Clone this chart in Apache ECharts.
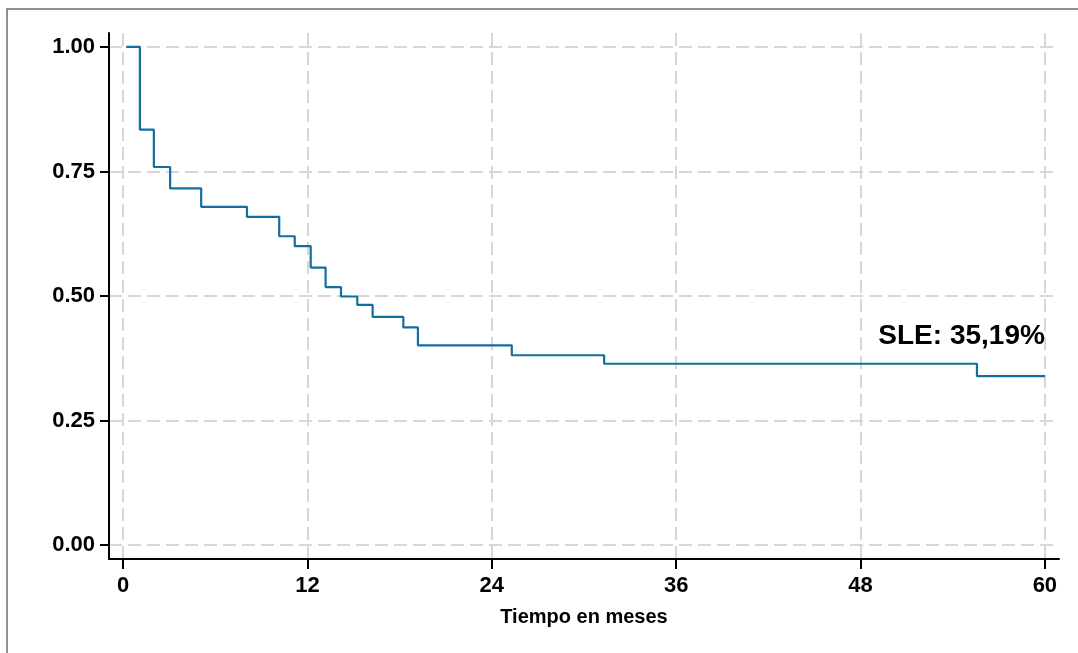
<!DOCTYPE html>
<html>
<head>
<meta charset="utf-8">
<script src="https://cdn.jsdelivr.net/npm/echarts@6/dist/echarts.min.js"></script>
<style>
html,body{margin:0;padding:0;background:#fff;}
#chart{width:1078px;height:653px;}
</style>
</head>
<body>
<div id="chart"></div>
<script>
// Kaplan-Meier step curve (time in months, survival probability)
var times = [0.2, 1.09, 2.0, 3.06, 5.08, 8.06, 10.16, 11.17, 12.21, 13.18, 14.18, 15.24, 16.24, 18.24, 19.19, 25.3, 31.31, 55.58, 60];
var surv  = [1.000, 0.834, 0.759, 0.716, 0.679, 0.659, 0.620, 0.600, 0.557, 0.518, 0.499, 0.482, 0.458, 0.437, 0.401, 0.381, 0.364, 0.339, 0.339];
var xTicks = [0, 12, 24, 36, 48, 60];
var yTicks = [0, 0.25, 0.5, 0.75, 1];
var xTitle = 'Tiempo en meses';
var annotation = 'SLE: 35,19%';

var data = times.map(function (t, i) { return [t, surv[i]]; });

var chart = echarts.init(document.getElementById('chart'), null, {renderer: 'canvas'});
var font = 'Liberation Sans, Arial, Helvetica, sans-serif';
var gridLine = {show: true, lineStyle: {color: '#d7d7d7', width: 2, type: [13, 6]}};

chart.setOption({
  backgroundColor: '#ffffff',
  animation: false,
  graphic: [{
    type: 'rect', silent: true,
    shape: {x: 7, y: 9, width: 1200, height: 800},
    style: {fill: 'none', stroke: '#6e6e6e', lineWidth: 1.5}
  }],
  grid: {left: 109, top: 33, width: 950, height: 526, containLabel: false},
  xAxis: {
    type: 'value', min: -0.92, max: 60.92,
    name: xTitle, nameLocation: 'middle', nameGap: 48,
    nameTextStyle: {color: '#000', fontSize: 20, fontWeight: 'bold', fontFamily: font},
    axisLine: {show: true, onZero: false, lineStyle: {color: '#000', width: 2}},
    axisTick: {show: true, length: 10, customValues: xTicks, lineStyle: {color: '#000', width: 2}},
    axisLabel: {customValues: xTicks, margin: 16, color: '#000', fontSize: 22, fontWeight: 'bold', fontFamily: font},
    splitLine: gridLine
  },
  yAxis: {
    type: 'value', min: -0.028, max: 1.028,
    axisLine: {show: true, onZero: false, lineStyle: {color: '#000', width: 2}},
    axisTick: {show: true, length: 9, customValues: yTicks, lineStyle: {color: '#000', width: 2}},
    axisLabel: {customValues: yTicks, margin: 14, color: '#000', fontSize: 22, fontWeight: 'bold', fontFamily: font,
      formatter: function (v) { return v.toFixed(2); }},
    splitLine: gridLine
  },
  series: [{
    type: 'line', step: 'end', data: data, showSymbol: false, symbol: 'none',
    lineStyle: {color: '#136ea0', width: 2.2},
    markPoint: {
      symbol: 'circle', symbolSize: 0, silent: true,
      data: [{coord: [60, 0.42], value: annotation}],
      label: {show: true, formatter: annotation, position: [0, 0], align: 'right', verticalAlign: 'middle',
        color: '#000', fontSize: 28, fontWeight: 'bold', fontFamily: font}
    }
  }]
});
</script>
</body>
</html>
